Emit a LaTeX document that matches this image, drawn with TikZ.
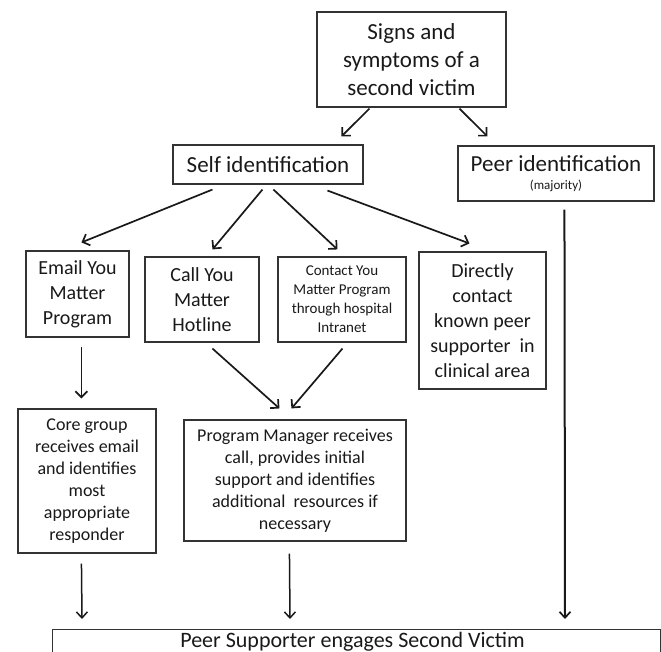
\documentclass[tikz,border=0pt]{standalone}
\usepackage{fontspec}
\setmainfont{Carlito}
\usetikzlibrary{arrows.meta}
\begin{document}
\begin{tikzpicture}[x=1pt,y=-1pt,
  box/.style={draw=black!80, line width=1.1pt, align=center, inner sep=0pt, text=black!90},
  fbig/.style={font=\fontsize{23}{28}\selectfont},
  fmid/.style={font=\fontsize{20}{25}\selectfont},
  fsm/.style={font=\fontsize{18}{22}\selectfont},
  ftiny/.style={font=\fontsize{15}{19}\selectfont},
  arr/.style={-{Straight Barb[length=6pt,width=12pt,line width=1.7pt]}, line width=1.7pt, draw=black!90},
  varr/.style={-{Straight Barb[length=6pt,width=11pt,line width=1.5pt]}, line width=1.5pt, draw=black!90},
  thickarr/.style={-{Straight Barb[length=6pt,width=11pt,line width=1.7pt]}, line width=2pt, draw=black!90}]
\useasboundingbox (0,0) rectangle (661,652);
\clip (0,0) rectangle (661,652);

\node[box, fbig, minimum width=189pt, minimum height=95pt] (signs) at (411.5,59.5) {Signs and\\symptoms of a\\second victim};
\node[box, fbig, minimum width=190pt, minimum height=39pt] (self) at (268,164.5) {Self identification};
\node[box, fbig, minimum width=196pt, minimum height=55pt] (peer) at (556,173.5) {Peer identification\\[-10pt]{\fontsize{13}{15}\selectfont (majority)}};

\node[box, fmid, minimum width=103pt, minimum height=86pt] (email) at (77.5,294) {Email You\\Matter\\Program};
\node[box, fmid, minimum width=114pt, minimum height=85pt] (call) at (202,299.5) {Call You\\Matter\\Hotline};
\node[box, ftiny, minimum width=128pt, minimum height=85pt] (contact) at (342,299.5) {Contact You\\Matter Program\\through hospital\\Intranet};
\node[box, fmid, minimum width=127pt, minimum height=137pt] (direct) at (482.5,320.5) {Directly\\contact\\known peer\\supporter\ \ in\\clinical area};

\node[box, fsm, minimum width=138pt, minimum height=144pt] (core) at (87,481) {Core group\\receives email\\and identifies\\most\\appropriate\\responder};
\node[box, fsm, minimum width=222pt, minimum height=121pt] (pm) at (295,480.5) {Program Manager receives\\call, provides initial\\support and identifies\\additional\ \ resources if\\necessary};

\node[box, minimum width=608pt, minimum height=44pt, anchor=north west] (ps) at (52,629) {};
\path (ps.north) ++(-4,18) node[font=\fontsize{22}{27}\selectfont, text=black!90, inner sep=0pt, anchor=base] (pslabel) {Peer Supporter engages Second Victim};

\draw[arr] ([xshift=53,yshift=-1]signs.south west) -- ([xshift=169,yshift=8]self.north west);
\draw[arr] ([xshift=143,yshift=-1]signs.south west) -- ([xshift=30,yshift=9]peer.north west);

\draw[arr] ([xshift=40,yshift=-5]self.south west) -- ([xshift=56,yshift=8]email.north west);
\draw[arr] ([xshift=90,yshift=-5]self.south west) -- ([xshift=68,yshift=7]call.north west);
\draw[arr] ([xshift=101,yshift=-5]self.south west) -- ([xshift=60,yshift=7]contact.north west);
\draw[arr] ([xshift=155,yshift=-6]self.south west) -- ([xshift=51,yshift=8]direct.north west);

\draw[arr] ([xshift=56,yshift=-9]email.south west) -- ([xshift=64,yshift=10]core.north west);
\draw[arr] ([xshift=68,yshift=-6]call.south west) -- ([xshift=96,yshift=11]pm.north west);
\draw[arr] ([xshift=65,yshift=-6]contact.south west) -- ([xshift=108,yshift=11]pm.north west);

\draw[varr] ([xshift=64,yshift=-10]core.south west) -- ([xshift=30,yshift=10]ps.north west);
\draw[varr] ([xshift=106,yshift=-12]pm.south west) -- ([xshift=238,yshift=10]ps.north west);
\draw[thickarr] ([xshift=107,yshift=-8]peer.south west) -- ([xshift=513,yshift=10]ps.north west);
\end{tikzpicture}
\end{document}
